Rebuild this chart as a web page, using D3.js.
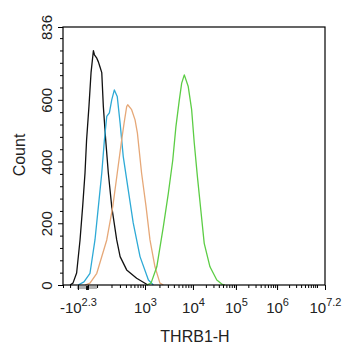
<!DOCTYPE html>
<html><head><meta charset="utf-8">
<script src="https://cdn.jsdelivr.net/npm/d3@7"></script>
<style>
html,body{margin:0;padding:0;background:#fff;}
svg{display:block;font-family:Arial,"Liberation Sans",sans-serif;}
</style></head>
<body><svg id="c" width="342" height="350"></svg>
<script>
// x values are in display channel units (0..1000 across the axis)
const blackX = [27,38,52,65,75,84,90,99,107,116,120,129,135,141,148,154,163,173,186,205,218,243,281,324];
const blackY = [0,6,39,146,254,363,470,578,688,759,746,735,723,707,688,578,470,363,254,146,92,49,22,0];
const blueX = [58,80,103,122,135,148,158,167,177,186,196,207,218,230,249,268,294,326,345];
const blueY = [0,10,38,146,254,363,470,546,558,600,632,611,524,416,308,201,92,16,0];
const orangeX = [84,103,129,167,190,207,224,233,243,247,262,275,284,300,317,332,351,370,383];
const orangeY = [0,6,38,146,254,362,470,524,578,584,568,535,492,362,254,146,59,6,0];
const greenX = [319,336,358,383,402,419,431,444,453,463,478,491,501,513,526,539,561,587,606,618];
const greenY = [0,6,59,189,297,405,513,600,654,681,643,568,460,351,243,135,59,16,3,0];

const xTickVals = [57,313,496,660,817,1000];
const xTickBase = ["-10","10","10","10","10","10"];
const xTickExp = ["2.3","3","4","5","6","7.2"];
const decadeExp = [2,3,4,5,6,7];
const decadeCh = [130,313,496,660,817,969.5];
const lowMinorCh = [0,27,95];
const yTickVals = [0,200,400,600,836];
const yMinorStep = 40;
const yMax = 836;

const seriesX = [blackX, blueX, orangeX, greenX];
const seriesY = [blackY, blueY, orangeY, greenY];
const colors = ["#111111","#2eaad6","#e6a878","#5ccd45"];

const L=63, R=325, T=27, B=285;
const svg = d3.select("#c");
const x = d3.scaleLinear().domain([0,1000]).range([L,R]);
const y = d3.scaleLinear().domain([0,yMax]).range([B,T]);

// minor ticks
const xMinor = lowMinorCh.slice();
for(let i=0;i<decadeCh.length;i++){
  const c0=decadeCh[i];
  const c1 = i<decadeCh.length-1 ? decadeCh[i+1] : c0+(decadeCh[i]-decadeCh[i-1]);
  if(i>0) xMinor.push(c0);
  for(let m=2;m<=9;m++){const v=c0+Math.log10(m)*(c1-c0); if(v<1000) xMinor.push(v);}
}
xMinor.push(decadeCh[0]);
const yMinor = d3.range(0,yMax,yMinorStep).filter(v=>yTickVals.indexOf(v)<0);

// zero band marks
svg.append("rect").attr("x",x(53)).attr("y",B+1).attr("width",x(130)-x(53)).attr("height",3).attr("fill","#b0b0b0");
svg.append("rect").attr("x",x(88)).attr("y",B+1).attr("width",x(99)-x(88)).attr("height",4).attr("fill","#111");

// curves
const line = d3.line().x(d=>x(d[0])).y(d=>y(d[1])).curve(d3.curveLinear);
seriesX.forEach((xs,i)=>{
  const pts = xs.map((v,j)=>[v,seriesY[i][j]]);
  svg.append("path").attr("d",line(pts)).attr("fill","none").attr("stroke",colors[i]).attr("stroke-width",1.3).attr("stroke-linejoin","round");
});

// frame
svg.append("rect").attr("x",L).attr("y",T).attr("width",R-L).attr("height",B-T).attr("fill","none").attr("stroke","#000").attr("stroke-width",1.2);

// x axes
const gxMin = svg.append("g").attr("transform",`translate(0,${B})`)
  .call(d3.axisBottom(x).tickValues(xMinor).tickSize(3).tickFormat(""));
const gx = svg.append("g").attr("transform",`translate(0,${B})`)
  .call(d3.axisBottom(x).tickValues(xTickVals).tickSize(5).tickFormat(""));
[gxMin,gx].forEach(g=>{g.select(".domain").remove(); g.selectAll("line").attr("stroke","#000");});
gx.selectAll(".tick").each(function(d,i){
  const t = d3.select(this).append("text").attr("y",28).attr("text-anchor","middle")
    .attr("fill","#222").style("font-size","15px");
  t.append("tspan").text(xTickBase[i]);
  t.append("tspan").attr("dy",-7).style("font-size","11px").text(xTickExp[i]);
});
// y axes
const gyMin = svg.append("g").attr("transform",`translate(${L},0)`)
  .call(d3.axisLeft(y).tickValues(yMinor).tickSize(3).tickFormat(""));
const gy = svg.append("g").attr("transform",`translate(${L},0)`)
  .call(d3.axisLeft(y).tickValues(yTickVals).tickSize(5).tickFormat(""));
[gyMin,gy].forEach(g=>{g.select(".domain").remove(); g.selectAll("line").attr("stroke","#000");});
gy.selectAll(".tick").append("text").attr("transform","translate(-11,0) rotate(-90)")
  .attr("text-anchor","middle").attr("fill","#222").style("font-size","15px").text(d=>d);

// titles
svg.append("text").attr("transform","translate(25,155) rotate(-90)").attr("text-anchor","middle")
  .attr("fill","#222").style("font-size","16px").text("Count");
svg.append("text").attr("x",195).attr("y",342).attr("text-anchor","middle")
  .attr("fill","#222").style("font-size","16px").text("THRB1-H");
</script></body></html>
